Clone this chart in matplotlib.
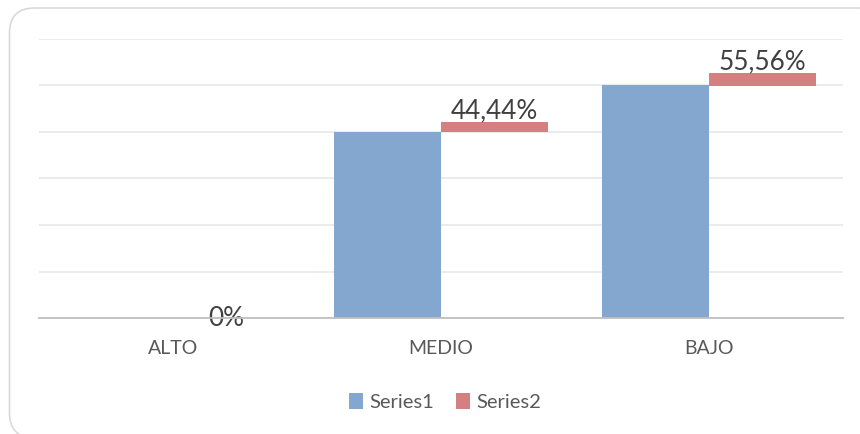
import numpy as np
import matplotlib
matplotlib.use("Agg")
import matplotlib.pyplot as plt
from matplotlib.patches import FancyBboxPatch

plt.rcParams['font.family'] = ['Lato', 'DejaVu Sans']

categorias = ['ALTO', 'MEDIO', 'BAJO']
series1 = [0, 4, 5]
# barra roja "flotante" sobre la azul, alto
series2_alto = [0, 0.22, 0.27]
series2_pct = [0, 44.44, 55.56]
etiquetas2 = ['0%', '44,44%', '55,56%']

azul = '#84A7CF'
rojo = '#D48080'

fig = plt.figure(figsize=(8.6, 4.34), dpi=100)
ax = fig.add_axes([39 / 860, 116 / 434, 804 / 860, 279 / 434])

x = np.arange(len(categorias))
ax.bar(x - 0.2, series1, width=0.4, color=azul, label='Series1', zorder=3)
ax.bar(x + 0.2, series2_alto, width=0.4, bottom=series1, color=rojo,
       label='Series2', zorder=3)

for i, txt in enumerate(etiquetas2):
    top = series1[i] + series2_alto[i]
    off = 2.6 if series2_pct[i] > 0 else -5.8
    ax.annotate(txt, (x[i] + 0.2, top), xytext=(0, off),
                textcoords='offset points', ha='center', va='baseline',
                fontsize=18.8, color='#404040', zorder=4)

ax.set_xlim(-0.5, 2.5)
ax.set_ylim(0, 6)
ax.set_yticks(range(0, 7))
ax.set_yticklabels([])
ax.tick_params(axis='y', length=0)
ax.tick_params(axis='x', length=0, pad=16, labelsize=14, labelcolor='#595959')
ax.set_xticks(x)
ax.set_xticklabels(categorias)
ax.grid(axis='y', color='#E8E8E8', linewidth=1.2, zorder=0)
for s in ['top', 'right', 'left']:
    ax.spines[s].set_visible(False)
ax.spines['bottom'].set_color('#BFBFBF')
ax.spines['bottom'].set_linewidth(1.3)
ax.spines['bottom'].set_zorder(5)

fig.legend(loc='center', bbox_to_anchor=(445 / 860, 1 - 402 / 434),
           ncol=2, frameon=False, fontsize=14.5, labelcolor='#595959',
           handlelength=0.7, handleheight=0.8, handletextpad=0.3,
           columnspacing=1.1)

borde = FancyBboxPatch((0.095, -0.04), 8.75, 4.30,
                       boxstyle='round,pad=0,rounding_size=0.25',
                       transform=fig.dpi_scale_trans, facecolor='none',
                       edgecolor='#D9D9D9', linewidth=1.2)
fig.add_artist(borde)

fig.savefig('out.png', dpi=100)
